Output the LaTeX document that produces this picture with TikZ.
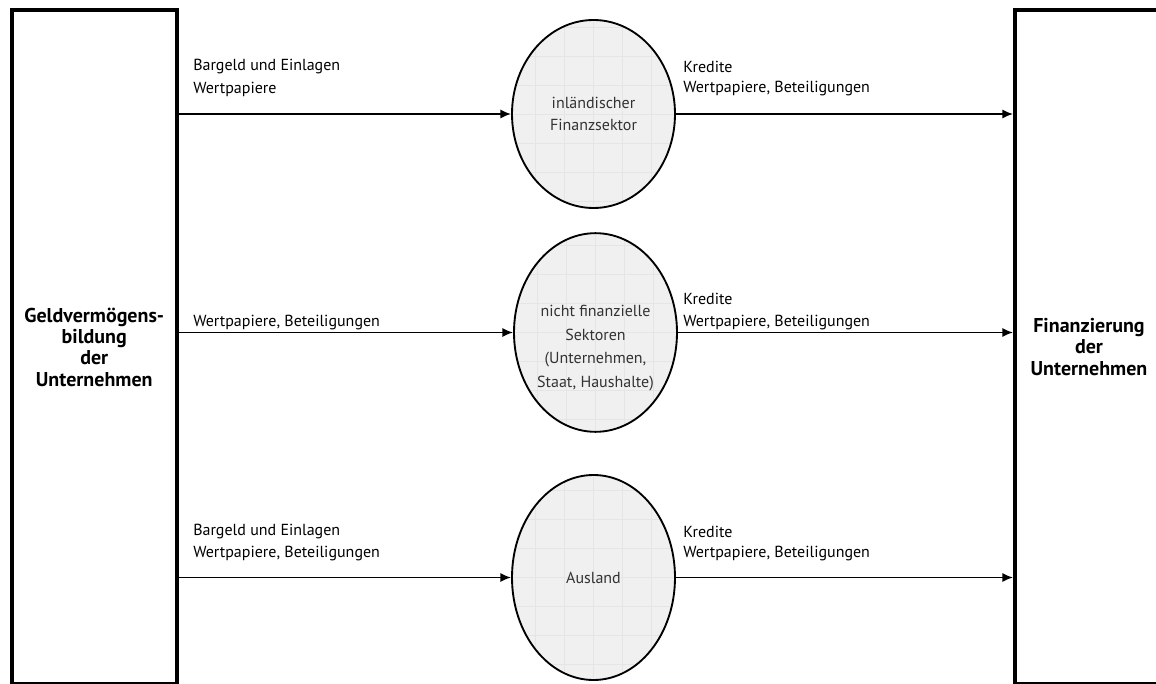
\documentclass[tikz,border=0pt]{standalone}
\usepackage{fontspec}
\setmainfont{PT Sans}
\usetikzlibrary{shapes.geometric,arrows.meta}
\begin{document}
\begin{tikzpicture}[x=0.75pt,y=-0.75pt,
  box/.style={draw,line width=3pt,rectangle,inner sep=0pt,align=center,
    font=\fontsize{15}{16}\selectfont\bfseries},
  sector/.style={draw,line width=1.4pt,ellipse,inner sep=0pt,fill=black!6,
    path picture={
      \foreach \i in {-4,...,4}{
        \draw[black!10,line width=0.4pt]
          ([xshift=\i*21.75pt]path picture bounding box.north) --
          ([xshift=\i*21.75pt]path picture bounding box.south);
        \draw[black!10,line width=0.4pt]
          ([yshift=\i*21.75pt]path picture bounding box.west) --
          ([yshift=\i*21.75pt]path picture bounding box.east);
      }}},
  sectext/.style={inner sep=0pt,align=center,text=black!80,
    font=\fontsize{12}{16.5}\selectfont},
  lbl/.style={anchor=west,inner sep=0pt,font=\fontsize{12}{14}\selectfont},
  flow/.style={line width=1.4pt,-{Latex[length=8pt,width=7pt]}}]
\useasboundingbox (0,0) rectangle (1156,684);
\clip (0,0) rectangle (1156,684);

% boxes
\node[box,minimum width=124.1pt,minimum height=505.5pt] (lbox) at (94.25,347)
  {Geldvermögens-\\bildung\\der\\Unternehmen};
\node[box,minimum width=111pt,minimum height=505.5pt] (rbox) at (1089,347)
  {Finanzierung\\der\\Unternehmen};

% sectors
\node[sector,minimum width=122.25pt,minimum height=141pt] (e1) at (593.5,114) {};
\node[sector,minimum width=122.25pt,minimum height=149pt] (e2) at (595.5,332.5) {};
\node[sector,minimum width=122.25pt,minimum height=153.75pt] (e3) at (593.5,577.5) {};

\node[sectext] (t1) at (593.5,114) {inländischer\\Finanzsektor};
\node[sectext,font=\fontsize{12}{17.6}\selectfont] (t2) at (595.5,348)
  {nicht finanzielle\\Sektoren\\(Unternehmen,\\Staat, Haushalte)};
\node[sectext] (t3) at (593.5,578) {Ausland};

% flows
\draw[flow] (lbox.east |- e1.west) -- (e1.west);
\draw[flow] (e1.east) -- (e1.east -| rbox.west);
\draw[flow] (lbox.east |- e2.west) -- (e2.west);
\draw[flow] (e2.east) -- (e2.east -| rbox.west);
\draw[flow] (lbox.east |- e3.west) -- (e3.west);
\draw[flow] (e3.east) -- (e3.east -| rbox.west);

% labels
\node[lbl] (l1a) at (193,67) {Bargeld und Einlagen};
\node[lbl] (l1b) at (193,89) {Wertpapiere};
\node[lbl] (r1a) at (683,67) {Kredite};
\node[lbl] (r1b) at (683,89) {Wertpapiere, Beteiligungen};
\node[lbl] (l2) at (193,323) {Wertpapiere, Beteiligungen};
\node[lbl] (r2a) at (683,299) {Kredite};
\node[lbl] (r2b) at (683,323) {Wertpapiere, Beteiligungen};
\node[lbl] (l3a) at (193,532) {Bargeld und Einlagen};
\node[lbl] (l3b) at (193,554) {Wertpapiere, Beteiligungen};
\node[lbl] (r3a) at (683,532) {Kredite};
\node[lbl] (r3b) at (683,554) {Wertpapiere, Beteiligungen};
\end{tikzpicture}
\end{document}
